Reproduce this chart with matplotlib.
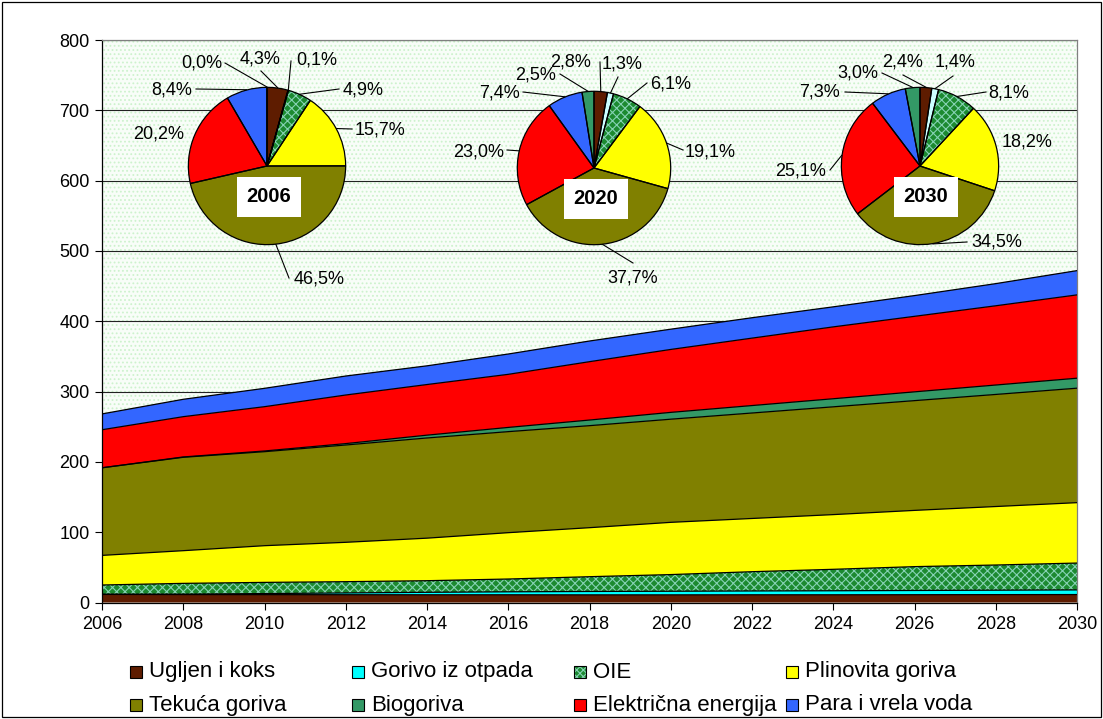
import numpy as np
import matplotlib
matplotlib.use("Agg")
import matplotlib.pyplot as plt
from matplotlib.patches import Rectangle
from matplotlib.lines import Line2D

plt.rcParams["font.family"] = ["Liberation Sans", "DejaVu Sans"]
plt.rcParams["hatch.linewidth"] = 0.8

# ---------------- data ----------------
years = [2006, 2008, 2010, 2012, 2014, 2016, 2018, 2020, 2022, 2024, 2026, 2028, 2030]

ugljen_i_koks = [11.5, 11.3, 11.2, 11.1, 11.0, 11.0, 10.9, 10.9, 11.0, 11.0, 11.1, 11.2, 11.3]
gorivo_iz_otpada = [0.3, 0.6, 1.5, 2.5, 3.5, 4.2, 4.8, 5.1, 5.4, 5.7, 6.0, 6.3, 6.6]
oie = [13.1, 15.3, 15.9, 16.0, 16.5, 18.2, 21.0, 23.7, 27.4, 30.5, 33.9, 35.8, 38.2]
plinovita_goriva = [42.1, 46.5, 52.2, 56.0, 60.5, 65.9, 69.7, 74.3, 75.7, 77.8, 80.0, 83.2, 85.9]
tekuca_goriva = [124.6, 132.8, 133.7, 138.4, 142.5, 143.7, 145.1, 146.7, 150.0, 153.3, 156.1, 159.4, 162.8]
biogoriva = [0.0, 0.5, 1.0, 2.0, 4.0, 6.0, 8.0, 9.7, 10.6, 11.5, 12.5, 13.4, 14.2]
elektricna_energija = [54.1, 57.3, 63.0, 69.1, 72.0, 75.5, 83.0, 89.5, 95.9, 102.2, 107.4, 112.7, 118.5]
para_i_vrela_voda = [22.5, 24.7, 26.1, 27.0, 26.6, 28.9, 29.4, 28.8, 29.0, 28.5, 29.5, 31.5, 34.5]

series_names = ["Ugljen i koks", "Gorivo iz otpada", "OIE", "Plinovita goriva",
                "Tekuća goriva", "Biogoriva", "Električna energija", "Para i vrela voda"]

# shares (%) for the three pie insets, in pie order:
# ugljen, otpad, OIE, plinovita, tekuća, električna, para, biogoriva
pie_years = ["2006", "2020", "2030"]
shares_2006 = [4.3, 0.1, 4.9, 15.7, 46.5, 20.2, 8.4, 0.0]
shares_2020 = [2.8, 1.3, 6.1, 19.1, 37.7, 23.0, 7.4, 2.5]
shares_2030 = [2.4, 1.4, 8.1, 18.2, 34.5, 25.1, 7.3, 3.0]

# ---------------- styling ----------------
W, H = 1103, 719
C_BROWN = "#5e1c00"
C_CYAN = "#00ffff"
C_OIE = "#1c8a30"
C_OIE_HATCH = "#86d2b4"
C_YELLOW = "#ffff00"
C_OLIVE = "#808000"
C_BIO = "#339966"
C_RED = "#ff0000"
C_BLUE = "#3366ff"

area_colors = [C_BROWN, C_CYAN, C_OIE, C_YELLOW, C_OLIVE, C_BIO, C_RED, C_BLUE]
area_hatch = [None, None, "xxxx", None, None, None, None, None]
pie_colors = [C_BROWN, "#ccffff", C_OIE, C_YELLOW, C_OLIVE, C_RED, C_BLUE, C_BIO]
pie_hatch = [None, None, "xxxx", None, None, None, None, None]


def fx(x):
    return x / W


def fy(y):
    return 1 - y / H


fig = plt.figure(figsize=(W / 100, H / 100), dpi=100)
fig.patch.set_facecolor("white")

# outer frame of the chart area
fig.add_artist(Rectangle((fx(2), fy(717)), fx(1099), (715) / H, transform=fig.transFigure,
                         facecolor="none", edgecolor="black", linewidth=0.9))

ax = fig.add_axes([fx(102), fy(602.5), (1077 - 102) / W, (602.5 - 40) / H])
ax.set_xlim(2006, 2030)
ax.set_ylim(0, 800)
ax.set_facecolor("white")

# dotted pale-green plot background
ax.add_patch(Rectangle((0, 0), 1, 1, transform=ax.transAxes, facecolor="#f8fdf8",
                       edgecolor="#cdf2cd", hatch="....", linewidth=0, zorder=0))

ax.set_axisbelow(True)
ax.yaxis.grid(True, color="#222222", linewidth=0.8)
ax.set_yticks(range(0, 801, 100))
ax.set_xticks(range(2006, 2031, 2))
ax.tick_params(axis="both", direction="out", length=5, width=0.8, labelsize=13,
               colors="black")
ax.tick_params(axis="x", pad=5)
ax.tick_params(axis="y", pad=4)
for side in ("left", "bottom"):
    ax.spines[side].set_color("black")
    ax.spines[side].set_linewidth(0.9)
for side in ("top", "right"):
    ax.spines[side].set_color("#808080")
    ax.spines[side].set_linewidth(0.9)

# stacked areas
stack = [ugljen_i_koks, gorivo_iz_otpada, oie, plinovita_goriva,
         tekuca_goriva, biogoriva, elektricna_energija, para_i_vrela_voda]
yrs = np.array(years, dtype=float)
base = np.zeros(len(years))
for vals, col, htc in zip(stack, area_colors, area_hatch):
    top = base + np.array(vals)
    if htc:
        ax.fill_between(yrs, base, top, facecolor=col, edgecolor=C_OIE_HATCH,
                        hatch=htc, linewidth=0, zorder=2)
    else:
        ax.fill_between(yrs, base, top, facecolor=col, linewidth=0, zorder=2)
    ax.plot(yrs, top, color="black", linewidth=0.9, zorder=3)
    base = top

# ---------------- pie insets ----------------
pie_shares = [shares_2006, shares_2020, shares_2030]
pie_geom = [(267, 166, 79), (594, 168, 77), (920, 166, 79)]
year_box = [(269, 197), (596, 199), (926, 197)]

# label centre and leader start (pixel offsets from pie centre); None = no leader
pie_labels = [
    [((-7, -107), (-6, -95)), ((50, -106), (24, -105)), ((96, -76), (72, -77)),
     ((113, -36), (85, -37)), ((52, 113), (22, 112)), ((-108, -32), None),
     ((-95, -76), (-71, -77)), ((-65, -103), (-42, -103))],
    [((-23, -106), (6, -106)), ((28, -104), (24, -91)), ((77, -84), (53, -85)),
     ((116, -16), (89, -18)), ((39, 110), (39, 95)), ((-115, -16), (-87, -18)),
     ((-95, -75), (-71, -76)), ((-58, -93), (-34, -94))],
    [((-17, -104), (-17, -91)), ((35, -104), (33, -90)), ((89, -73), (66, -74)),
     ((107, -24), None), ((77, 76), (47, 76)), ((-119, 5), (-90, 4)),
     ((-100, -74), (-75, -74)), ((-62, -93), (-38, -93))],
]


def pct(v):
    return f"{v:.1f}%".replace(".", ",")


for shares, (cx, cy, r), lab, (bx, by), yl in zip(pie_shares, pie_geom, pie_labels,
                                                   year_box, pie_years):
    pax = fig.add_axes([fx(cx - r - 2), fy(cy + r + 2), (2 * r + 4) / W, (2 * r + 4) / H])
    pax.set_aspect("equal")
    pax.axis("off")
    wedges, _ = pax.pie(shares, colors=pie_colors, startangle=90, counterclock=False,
                        radius=1, wedgeprops=dict(linewidth=0))
    for w, htc in zip(wedges, pie_hatch):
        if htc:
            w.set_hatch(htc)
            w.set_edgecolor(C_OIE_HATCH)
    pax.pie(shares, colors=["none"] * len(shares), startangle=90, counterclock=False,
            radius=1, wedgeprops=dict(linewidth=0.9, edgecolor="black", fill=False))
    pax.set_xlim(-1.03, 1.03)
    pax.set_ylim(-1.03, 1.03)

    total = float(sum(shares))
    cum = 0.0
    for v, ((ldx, ldy), anchor) in zip(shares, lab):
        mid = (cum + v / 2) / total
        cum += v
        theta = np.deg2rad(90 - 360 * mid)
        rim = (cx + r * np.cos(theta), cy - r * np.sin(theta))
        fig.text(fx(cx + ldx), fy(cy + ldy), pct(v), ha="center", va="center",
                 fontsize=13, color="black")
        if anchor is not None:
            ax0 = cx + anchor[0]
            ay0 = cy + anchor[1]
            fig.add_artist(Line2D([fx(ax0), fx(rim[0])], [fy(ay0), fy(rim[1])],
                                  transform=fig.transFigure, color="black",
                                  linewidth=0.8))
    fig.text(fx(bx), fy(by), yl, ha="center", va="center", fontsize=14.5,
             fontweight="bold", color="black",
             bbox=dict(facecolor="white", edgecolor="none", boxstyle="square,pad=0.5"))

# ---------------- legend ----------------
leg_cols = [130, 352, 574, 786]
leg_rows = [672, 705]
for i, (name, col, htc) in enumerate(zip(series_names, area_colors, area_hatch)):
    x0 = leg_cols[i % 4]
    y0 = leg_rows[i // 4]
    if htc:
        fig.add_artist(Rectangle((fx(x0), fy(y0 + 6)), 12 / W, 12 / H,
                                 transform=fig.transFigure, facecolor=col,
                                 edgecolor=C_OIE_HATCH, hatch="xxxxx", linewidth=0))
    fig.add_artist(Rectangle((fx(x0), fy(y0 + 6)), 12 / W, 12 / H,
                             transform=fig.transFigure,
                             facecolor="none" if htc else col,
                             edgecolor="black", linewidth=0.8))
    fig.text(fx(x0 + 19), fy(y0), name, ha="left", va="center", fontsize=16,
             color="black")

fig.savefig("out.png", dpi=100)
